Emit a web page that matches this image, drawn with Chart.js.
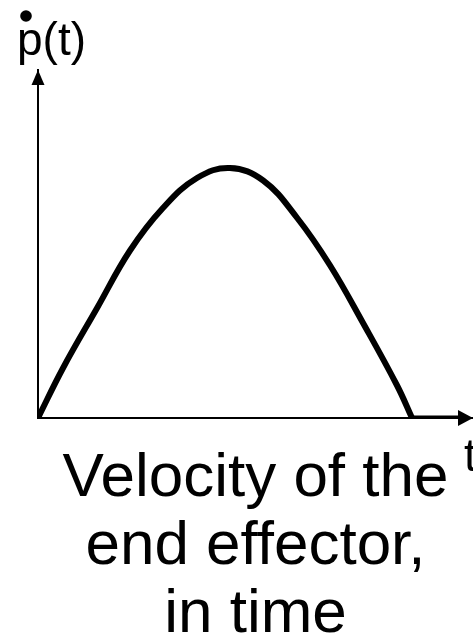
<!DOCTYPE html>
<html>
<head>
<meta charset="utf-8">
<title>Velocity of the end effector, in time</title>
<script src="https://cdn.jsdelivr.net/npm/chart.js@4.4.1/dist/chart.umd.min.js"></script>
<style>
  html, body { margin: 0; padding: 0; background: #fff; }
  #wrap { width: 473px; height: 639px; }
</style>
</head>
<body>
<div id="wrap"><canvas id="vel" width="473" height="639"></canvas></div>
<script>
// time samples (s) and end effector speed
const times = [0, 0.67, 1.58, 2.46, 3.34, 4.25, 5.13, 6.02, 6.93, 7.81, 8.69, 9.6, 10];
const speeds = [0, 0.20, 0.44, 0.67, 0.84, 0.96, 1.0, 0.95, 0.80, 0.61, 0.38, 0.13, 0];

// robot at rest after the move
const restTimes = [10, 11.23];
const restSpeeds = [0, 0];

const captionLines = ['Velocity of the', 'end effector,', 'in time'];
const yLabel = 'p(t)';
const xLabel = 't';

const FONT = '"Liberation Sans", Arial, sans-serif';

// arrows on the axes + the p(t) / t labels
const axisDecor = {
  id: 'axisDecor',
  afterDraw(chart) {
    const ctx = chart.ctx;
    const a = chart.chartArea;
    ctx.save();
    ctx.fillStyle = '#000';

    // y axis arrow head
    ctx.beginPath();
    ctx.moveTo(a.left, a.top);
    ctx.lineTo(a.left - 6.5, a.top + 15);
    ctx.lineTo(a.left + 6.5, a.top + 15);
    ctx.closePath();
    ctx.fill();

    // x axis arrow head
    ctx.beginPath();
    ctx.moveTo(a.right, a.bottom);
    ctx.lineTo(a.right - 15, a.bottom - 8);
    ctx.lineTo(a.right - 15, a.bottom + 8);
    ctx.closePath();
    ctx.fill();

    ctx.font = '46px ' + FONT;
    ctx.textBaseline = 'alphabetic';
    ctx.textAlign = 'left';
    ctx.fillText(yLabel, a.left - 21, a.top - 15);
    // derivative dot over the p
    ctx.beginPath();
    ctx.arc(a.left - 12, a.top - 54, 5.8, 0, Math.PI * 2);
    ctx.fill();

    ctx.fillText(xLabel, a.right - 9, a.bottom + 53);
    ctx.restore();
  }
};

new Chart(document.getElementById('vel'), {
  type: 'line',
  data: {
    datasets: [
      {
        data: times.map((t, i) => ({ x: t, y: speeds[i] })),
        borderColor: '#000',
        borderWidth: 6,
        pointRadius: 0,
        tension: 0.4,
        fill: false
      },
      {
        data: restTimes.map((t, i) => ({ x: t, y: restSpeeds[i] })),
        borderColor: '#000',
        borderWidth: 5,
        pointRadius: 0,
        fill: false
      }
    ]
  },
  options: {
    responsive: false,
    animation: false,
    layout: { padding: { left: 38, top: 70, right: 0, bottom: 0 } },
    scales: {
      x: {
        type: 'linear',
        min: 0,
        max: 11.63,
        grid: { display: false, drawTicks: false },
        ticks: { display: false },
        border: { display: true, color: '#000', width: 2 }
      },
      y: {
        min: 0,
        max: 1.392,
        grid: { display: false, drawTicks: false },
        ticks: { display: false },
        border: { display: true, color: '#000', width: 2 }
      }
    },
    plugins: {
      legend: { display: false },
      tooltip: { enabled: false },
      title: {
        display: true,
        position: 'bottom',
        fullSize: false,
        text: captionLines,
        color: '#000',
        font: { family: FONT, size: 62, weight: 'normal', lineHeight: 68 / 62 },
        padding: { top: 27, bottom: -10 }
      }
    }
  },
  plugins: [axisDecor]
});
</script>
</body>
</html>
